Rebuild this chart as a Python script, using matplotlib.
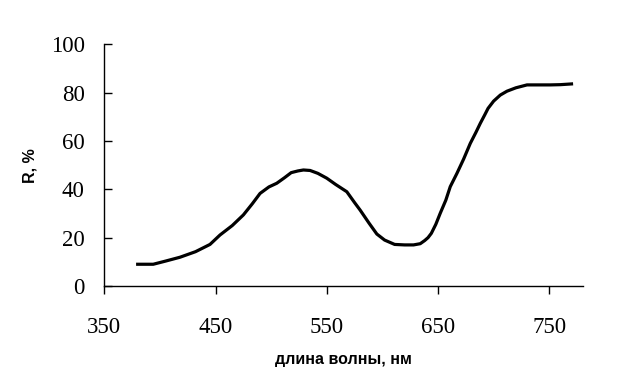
import matplotlib
matplotlib.use("Agg")
import matplotlib.pyplot as plt

# reflectance spectrum
wavelength = [380, 394, 405, 418, 432, 445, 454, 465, 475, 483, 490, 498, 505, 512,
              518, 524, 529, 535, 542, 550, 558, 568, 575, 580, 588, 595, 602, 611,
              620, 628, 634, 638, 641, 644, 648, 652, 657, 661, 667, 673, 679, 684,
              688, 692, 695, 700, 706, 712, 720, 730, 740, 751, 760, 770]
reflectance = [9.0, 9.0, 10.3, 11.9, 14.2, 17.2, 21.1, 25.0, 29.4, 34.0, 38.3, 41.0, 42.5, 44.8,
               46.9, 47.6, 48.0, 47.8, 46.6, 44.6, 42.0, 39.0, 34.5, 31.4, 26.0, 21.5, 19.0, 17.2,
               17.0, 17.0, 17.5, 18.8, 20.0, 21.8, 25.5, 30.1, 35.5, 41.1, 46.6, 52.5, 59.0, 63.5,
               67.3, 70.8, 73.5, 76.5, 79.0, 80.6, 82.0, 83.2, 83.2, 83.2, 83.3, 83.6]

x_ticks = [350, 450, 550, 650, 750]
y_ticks = [0, 20, 40, 60, 80, 100]

fig = plt.figure(figsize=(6.25, 3.92), dpi=100)
ax = fig.add_axes([0.1669, 0.2704, 0.7653, 0.6166])

ax.plot(wavelength, reflectance, color="black", linewidth=2.3, clip_on=False)

ax.set_xlim(350, 780)
ax.set_ylim(0, 100)
ax.set_xticks(x_ticks)
ax.set_yticks(y_ticks)

for side in ["top", "right"]:
    ax.spines[side].set_visible(False)
for side in ["left", "bottom"]:
    ax.spines[side].set_linewidth(1.0)

ax.tick_params(axis="x", direction="out", length=6, width=1.0, pad=16)
ax.tick_params(axis="y", direction="in", length=5.5, width=1.0, pad=14)
for lab in ax.get_xticklabels() + ax.get_yticklabels():
    lab.set_fontfamily("Liberation Serif")
    lab.set_fontsize(16.5)

ax.set_xlabel("длина волны, нм", fontfamily="Liberation Sans", fontweight="bold", fontsize=11.5)
ax.set_ylabel("R, %", fontfamily="Liberation Sans", fontweight="bold", fontsize=11.5)
ax.xaxis.set_label_coords(0.5, -0.275)
ax.yaxis.set_label_coords(-0.14, 0.5)

fig.savefig("out.png", dpi=100)
